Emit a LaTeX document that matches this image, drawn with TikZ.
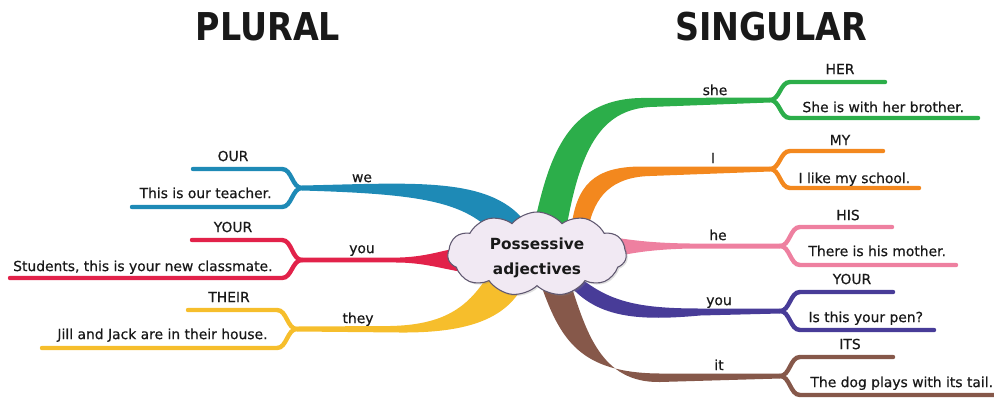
\documentclass[tikz,border=0pt]{standalone}
\usepackage{fontspec}
\setmainfont{DejaVu Sans}
\newfontfamily\wordfont{DejaVu Sans}[FakeBold=0.6]
\usepackage{graphicx}
\usetikzlibrary{shapes.symbols,shadows,calc}

\definecolor{weblue}{RGB}{30,138,182}
\definecolor{youred}{RGB}{226,34,74}
\definecolor{theyyellow}{RGB}{246,190,44}
\definecolor{shegreen}{RGB}{44,174,74}
\definecolor{iorange}{RGB}{243,136,30}
\definecolor{hepink}{RGB}{238,128,160}
\definecolor{youpurple}{RGB}{72,60,152}
\definecolor{itbrown}{RGB}{134,88,74}
\definecolor{cloudfill}{RGB}{241,233,243}
\definecolor{cloudline}{RGB}{96,88,112}
\definecolor{ink}{RGB}{25,25,25}

\tikzset{every picture/.style={line width=0.75pt}}
\tikzset{
  twig/.style={line width=3.3pt, line cap=round},
  word/.style={font=\wordfont\fontsize{10.4}{12}\selectfont, text=ink, inner sep=0pt, text height=7.6pt, text depth=0pt},
  title/.style={font=\fontsize{25}{30}\selectfont\bfseries, text=ink, inner sep=0pt},
  hubcloud/.style={cloud, cloud puffs=11, cloud puff arc=100, cloud ignores aspect, draw=cloudline, fill=cloudfill, line width=0.8pt,
    inner sep=0pt, minimum width=134pt, minimum height=63pt,
    drop shadow={shadow xshift=1.2pt, shadow yshift=-1.2pt, opacity=0.25}},
  hubtext/.style={align=center, text=ink, inner sep=0pt, font=\fontsize{11.5}{18.5}\selectfont\bfseries}
}

\begin{document}
\begin{tikzpicture}[x=0.75pt,y=0.75pt,yscale=-1,xscale=1]
	\useasboundingbox (0,0) rectangle (994,397);

	% Fork points
	\coordinate (weF) at (302,188);
	\coordinate (youPF) at (302,260);
	\coordinate (theyF) at (297,329);
	\coordinate (sheF) at (770,100);
	\coordinate (iF) at (770,169);
	\coordinate (heF) at (780,246);
	\coordinate (youSF) at (780,311);
	\coordinate (itF) at (780,376);
	% Twig ends
	\coordinate (ourE) at (193,169);
	\coordinate (weSE) at (132,207);
	\coordinate (yourPE) at (192,240);
	\coordinate (youPSE) at (10,278);
	\coordinate (theirE) at (188,310);
	\coordinate (theySE) at (42,348);
	\coordinate (herE) at (885,82);
	\coordinate (sheSE) at (978,118);
	\coordinate (myE) at (883,151);
	\coordinate (iSE) at (919,188);
	\coordinate (hisE) at (892,227);
	\coordinate (heSE) at (956,265);
	\coordinate (yourSE) at (893,292);
	\coordinate (youSSE) at (934,330);
	\coordinate (itsE) at (893,357);
	\coordinate (itSE) at (1000,395);

	%Shape: trunk we
	\fill[weblue] ($(weF)+(0,-2.5)$) .. controls (420,183) and (500,175) .. (532,232) -- (496,236) .. controls (465,201) and (420,194) .. ($(weF)+(0,2.5)$) -- cycle;
	%Shape: trunk you (plural)
	\fill[youred] ($(youPF)+(0,-2.3)$) -- (400,257.5) .. controls (430,256.5) and (445,249) .. (470,246) -- (470,273) .. controls (445,270) and (430,263.5) .. (400,262.5) -- ($(youPF)+(0,2.3)$) -- cycle;
	%Shape: trunk they
	\fill[theyyellow] ($(theyF)+(0,-2.5)$) -- (390,326) .. controls (440,325) and (465,310) .. (485,280) -- (525,282) .. controls (508,318) and (470,333) .. (400,332.5) -- ($(theyF)+(0,2.5)$) -- cycle;
	%Shape: trunk she
	\fill[shegreen] (533,230) .. controls (548,160) and (565,100) .. (640,98) -- ($(sheF)+(0,-2.5)$) -- ($(sheF)+(0,2.5)$) -- (650,107) .. controls (600,110) and (580,150) .. (566,230) -- cycle;
	%Shape: trunk I
	\fill[iorange] (571,230) .. controls (576,185) and (594,167) .. (640,166.5) -- ($(iF)+(0,-2.5)$) -- ($(iF)+(0,2.5)$) -- (650,176) .. controls (612,177) and (594,196) .. (588,230) -- cycle;
	%Shape: trunk he
	\fill[hepink] (605,236) .. controls (630,240) and (650,243) .. (690,243.5) -- ($(heF)+(0,-2.5)$) -- ($(heF)+(0,2.5)$) -- (690,248.5) .. controls (650,249.5) and (630,253) .. (605,259) -- cycle;
	%Shape: trunk you (singular)
	\fill[youpurple] (583,280) .. controls (612,302) and (640,308.5) .. (700,308.5) -- ($(youSF)+(0,-2.5)$) -- ($(youSF)+(0,2.5)$) -- (700,315.5) .. controls (640,321) and (600,318) .. (572,288) -- cycle;
	%Shape: trunk it
	\fill[itbrown] (540,282) .. controls (560,340) and (580,373) .. (660,373.5) -- ($(itF)+(0,-2.5)$) -- ($(itF)+(0,2.5)$) -- (660,382) .. controls (600,383) and (586,330) .. (570,282) -- cycle;

	%Curve Lines
	\draw[twig, weblue] (weF) .. controls +(-10,0) and +(10,0) .. ($(weF|-ourE)+(-20,0)$) -- (ourE);
	\draw[twig, weblue] (weF) .. controls +(-10,0) and +(10,0) .. ($(weF|-weSE)+(-20,0)$) -- (weSE);
	\draw[twig, youred] (youPF) .. controls +(-10,0) and +(10,0) .. ($(youPF|-yourPE)+(-20,0)$) -- (yourPE);
	\draw[twig, youred] (youPF) .. controls +(-10,0) and +(10,0) .. ($(youPF|-youPSE)+(-20,0)$) -- (youPSE);
	\draw[twig, theyyellow] (theyF) .. controls +(-10,0) and +(10,0) .. ($(theyF|-theirE)+(-20,0)$) -- (theirE);
	\draw[twig, theyyellow] (theyF) .. controls +(-10,0) and +(10,0) .. ($(theyF|-theySE)+(-20,0)$) -- (theySE);
	\draw[twig, shegreen] (sheF) .. controls +(10,0) and +(-10,0) .. ($(sheF|-herE)+(20,0)$) -- (herE);
	\draw[twig, shegreen] (sheF) .. controls +(10,0) and +(-10,0) .. ($(sheF|-sheSE)+(20,0)$) -- (sheSE);
	\draw[twig, iorange] (iF) .. controls +(10,0) and +(-10,0) .. ($(iF|-myE)+(20,0)$) -- (myE);
	\draw[twig, iorange] (iF) .. controls +(10,0) and +(-10,0) .. ($(iF|-iSE)+(20,0)$) -- (iSE);
	\draw[twig, hepink] (heF) .. controls +(10,0) and +(-10,0) .. ($(heF|-hisE)+(20,0)$) -- (hisE);
	\draw[twig, hepink] (heF) .. controls +(10,0) and +(-10,0) .. ($(heF|-heSE)+(20,0)$) -- (heSE);
	\draw[twig, youpurple] (youSF) .. controls +(10,0) and +(-10,0) .. ($(youSF|-yourSE)+(20,0)$) -- (yourSE);
	\draw[twig, youpurple] (youSF) .. controls +(10,0) and +(-10,0) .. ($(youSF|-youSSE)+(20,0)$) -- (youSSE);
	\draw[twig, itbrown] (itF) .. controls +(10,0) and +(-10,0) .. ($(itF|-itsE)+(20,0)$) -- (itsE);
	\draw[twig, itbrown] (itF) .. controls +(10,0) and +(-10,0) .. ($(itF|-itSE)+(20,0)$) -- (itSE);

	%Shape: Cloud
	\node[hubcloud] (hub) at (537,254) {};
	\node[hubtext] (hubtxt) at ($(hub.center)+(0,4)$) {Possessive\\adjectives};

	% Text Node
	\node[title] (plural) at (268,27) {\scalebox{1}[1.15]{PLURAL}};
	% Text Node
	\node[title] (singular) at (771,27) {\scalebox{1}[1.15]{SINGULAR}};
	% Text Node
	\node[word] (our) at (233,156) {OUR};
	% Text Node
	\node[word] (we) at (362,177) {we};
	% Text Node
	\node[word, anchor=east] (weS) at (272,193) {This is our teacher.};
	% Text Node
	\node[word] (yourP) at (233,227) {YOUR};
	% Text Node
	\node[word] (youP) at (362,248) {you};
	% Text Node
	\node[word, anchor=east] (youPS) at (273,266) {Students, this is your new classmate.};
	% Text Node
	\node[word] (their) at (229,297) {THEIR};
	% Text Node
	\node[word] (they) at (358,318) {they};
	% Text Node
	\node[word, anchor=east] (theyS) at (268,334) {Jill and Jack are in their house.};
	% Text Node
	\node[word] (her) at (840,69) {HER};
	% Text Node
	\node[word] (she) at (715,90) {she};
	% Text Node
	\node[word, anchor=west] (sheS) at (802,107) {She is with her brother.};
	% Text Node
	\node[word] (my) at (840,140) {MY};
	% Text Node
	\node[word] (i) at (713,158) {I};
	% Text Node
	\node[word, anchor=west] (iS) at (798,178) {I like my school.};
	% Text Node
	\node[word] (his) at (848,215) {HIS};
	% Text Node
	\node[word] (he) at (718,235) {he};
	% Text Node
	\node[word, anchor=west] (heS) at (808,251) {There is his mother.};
	% Text Node
	\node[word] (yourS) at (852,279) {YOUR};
	% Text Node
	\node[word] (youS) at (719,300) {you};
	% Text Node
	\node[word, anchor=west] (youSS) at (808,317) {Is this your pen?};
	% Text Node
	\node[word] (its) at (850,344) {ITS};
	% Text Node
	\node[word] (it) at (719,365) {it};
	% Text Node
	\node[word, anchor=west] (itS) at (810,382) {The dog plays with its tail.};

\end{tikzpicture}
\end{document}
